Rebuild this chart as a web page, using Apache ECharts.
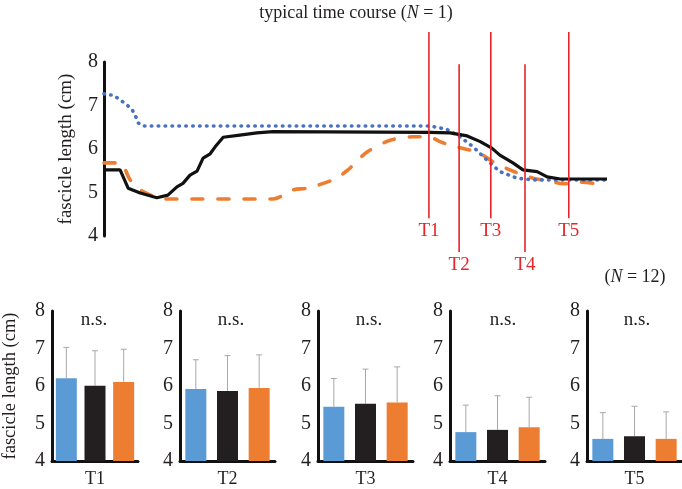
<!DOCTYPE html>
<html>
<head>
<meta charset="utf-8">
<script src="https://cdn.jsdelivr.net/npm/echarts@6/dist/echarts.min.js"></script>
<style>
html, body { margin: 0; padding: 0; background: #fff; }
#main { width: 682px; height: 489px; }
</style>
</head>
<body>
<div id="main"></div>
<script>
// typical time course (N = 1): [time %, fascicle length cm]
var courseDotted = [[0,7.27],[0.6,7.24],[1.8,7.24],[3.2,7.13],[4.6,7.01],[5.6,6.9],[6.2,6.78],[6.8,6.6],[7.6,6.53],[64.8,6.53],[68.2,6.45],[70.8,6.28],[73.4,6.05],[76.1,5.75],[78.7,5.48],[82.1,5.33],[85.3,5.29],[100,5.29]];
var courseSolid = [[0,5.52],[3.2,5.52],[4.8,5.1],[7.2,4.99],[10.5,4.88],[12.7,4.94],[14.5,5.13],[15.7,5.21],[17.1,5.40],[18.5,5.49],[19.7,5.79],[21.1,5.89],[22.1,6.05],[23.7,6.27],[27.0,6.32],[30.4,6.37],[33.6,6.40],[64.8,6.38],[68.8,6.37],[72.2,6.30],[74.8,6.17],[77.1,6.02],[78.7,5.86],[81.3,5.68],[83.3,5.52],[86.1,5.48],[88.1,5.36],[90.7,5.31],[100,5.31]];
var courseDashed = [[0,5.68],[3.2,5.68],[5.2,5.29],[7.8,5.02],[12.5,4.85],[33.6,4.85],[37.6,5.06],[40.4,5.1],[45.5,5.29],[48.3,5.5],[52.3,5.93],[56.9,6.2],[61.4,6.28],[64.6,6.28],[66.8,6.17],[68.8,6.09],[72.2,5.99],[74.2,5.94],[77.3,5.71],[81.3,5.49],[85.3,5.33],[88.7,5.26],[91.3,5.20],[94.6,5.24],[98.6,5.19]];

// time markers
var markerNames = ['T1', 'T2', 'T3', 'T4', 'T5'];
var markerTimes = [64.6, 70.6, 76.9, 83.7, 92.4];
var markerTops = [8.69, 7.95, 8.69, 7.95, 8.69];
var markerBottoms = [4.41, 3.63, 4.41, 3.63, 4.41];

// group means and SD (N = 12)
var conditions = ['condition 1', 'condition 2', 'condition 3'];
var meanBlue = [6.21, 5.92, 5.45, 4.77, 4.59];
var sdBlue = [0.82, 0.78, 0.75, 0.72, 0.70];
var meanBlack = [6.01, 5.87, 5.53, 4.83, 4.66];
var sdBlack = [0.93, 0.94, 0.92, 0.91, 0.80];
var meanOrange = [6.11, 5.95, 5.56, 4.90, 4.59];
var sdOrange = [0.87, 0.88, 0.95, 0.80, 0.72];

var serif = '"Liberation Serif", "DejaVu Serif", serif';
var ink = '#231f20';
var red = '#e8232b';
var barColors = ['#5b9bd5', '#231f20', '#ed7d31'];

var chart = echarts.init(document.getElementById('main'));

var grids = [{ left: 104, top: 62, width: 503, height: 174 }];
var xAxes = [{ gridIndex: 0, type: 'value', min: 0, max: 100, show: false }];
var yAxes = [{
	gridIndex: 0, type: 'value', min: 4, max: 8, interval: 1,
	name: 'fascicle length (cm)', nameLocation: 'middle', nameGap: 28,
	nameTextStyle: { fontFamily: serif, fontSize: 19, color: ink },
	axisLine: { show: true, lineStyle: { color: '#111', width: 3 } },
	axisTick: { show: false },
	splitLine: { show: false },
	axisLabel: { fontFamily: serif, fontSize: 20, color: ink, margin: 6 }
}];

var series = [{
	type: 'line', xAxisIndex: 0, yAxisIndex: 0, data: courseDotted,
	symbol: 'none', lineStyle: { color: '#4a72c0', width: 3.6, type: [0.5, 6.4], cap: 'round' }, z: 3
}, {
	type: 'line', xAxisIndex: 0, yAxisIndex: 0, data: courseDashed,
	symbol: 'none', smooth: 0.3, lineStyle: { color: '#ed7d31', width: 3.6, type: [11, 15], cap: 'round' }, z: 2
}, {
	type: 'line', xAxisIndex: 0, yAxisIndex: 0, data: courseSolid,
	symbol: 'none', lineStyle: { color: '#111', width: 3.2 }, z: 4
}, {
	type: 'custom', xAxisIndex: 0, yAxisIndex: 0, clip: false, z: 5,
	data: markerTimes.map(function (t, i) { return [t, markerTops[i], markerBottoms[i]]; }),
	encode: { x: 0, y: [1, 2] },
	renderItem: function (params, api) {
		var t = api.value(0);
		var p1 = api.coord([t, api.value(1)]);
		var p2 = api.coord([t, api.value(2)]);
		return {
			type: 'group',
			children: [{
				type: 'line',
				shape: { x1: p1[0], y1: p1[1], x2: p2[0], y2: p2[1] },
				style: { stroke: red, lineWidth: 1.6 }
			}, {
				type: 'text', x: p2[0], y: p2[1] + 13,
				style: { text: markerNames[params.dataIndex], fill: red, font: '19px ' + serif, align: 'center', verticalAlign: 'middle' }
			}]
		};
	}
}];

var barLefts = [43, 180, 318, 450, 587];
markerNames.forEach(function (name, k) {
	var gi = k + 1;
	grids.push({ left: barLefts[k], top: 311, width: 95, height: 151 });
	xAxes.push({
		gridIndex: gi, type: 'category', data: conditions,
		name: name, nameLocation: 'middle', nameGap: 9,
		nameTextStyle: { fontFamily: serif, fontSize: 18, color: ink },
		axisLine: { show: true, lineStyle: { color: '#111', width: 3 } },
		axisTick: { show: false },
		axisLabel: { show: false }
	});
	yAxes.push({
		gridIndex: gi, type: 'value', min: 4, max: 8, interval: 1,
		name: k === 0 ? 'fascicle length (cm)' : '', nameLocation: 'middle', nameGap: 32,
		nameTextStyle: { fontFamily: serif, fontSize: 18.5, color: ink },
		axisLine: { show: true, lineStyle: { color: '#111', width: 3 } },
		axisTick: { show: false },
		splitLine: { show: false },
		axisLabel: { fontFamily: serif, fontSize: 20, color: ink, margin: 7 }
	});
	var means = [meanBlue[k], meanBlack[k], meanOrange[k]];
	var sds = [sdBlue[k], sdBlack[k], sdOrange[k]];
	series.push({
		type: 'bar', xAxisIndex: gi, yAxisIndex: gi, barWidth: 21,
		data: means.map(function (m, i) { return { value: m, itemStyle: { color: barColors[i] } }; })
	});
	series.push({
		type: 'custom', xAxisIndex: gi, yAxisIndex: gi, z: 1,
		data: means.map(function (m, i) { return [i, m, m + sds[i]]; }),
		encode: { x: 0, y: [1, 2] },
		renderItem: function (params, api) {
			var base = api.coord([api.value(0), api.value(1)]);
			var top = api.coord([api.value(0), api.value(2)]);
			var st = { stroke: '#a8a8a8', lineWidth: 1 };
			return {
				type: 'group',
				children: [
					{ type: 'line', shape: { x1: base[0], y1: base[1], x2: top[0], y2: top[1] }, style: st },
					{ type: 'line', shape: { x1: top[0] - 3, y1: top[1], x2: top[0] + 3, y2: top[1] }, style: st }
				]
			};
		}
	});
});

var nsCenters = [94, 231, 369, 503, 637];
var graphics = [{
	type: 'text', x: 356, y: 13,
	style: {
		text: 'typical time course ({i|N} = 1)', fill: ink, font: '18px ' + serif,
		align: 'center', verticalAlign: 'middle',
		rich: { i: { fontStyle: 'italic', fontFamily: serif, fontSize: 18, fill: ink } }
	}
}, {
	type: 'text', x: 635, y: 277,
	style: {
		text: '({i|N} = 12)', fill: ink, font: '18px ' + serif,
		align: 'center', verticalAlign: 'middle',
		rich: { i: { fontStyle: 'italic', fontFamily: serif, fontSize: 18, fill: ink } }
	}
}];
nsCenters.forEach(function (cx) {
	graphics.push({
		type: 'text', x: cx, y: 320,
		style: { text: 'n.s.', fill: ink, font: '19px ' + serif, align: 'center', verticalAlign: 'middle' }
	});
});

option = {
	animation: false,
	backgroundColor: '#fff',
	grid: grids,
	xAxis: xAxes,
	yAxis: yAxes,
	series: series,
	graphic: graphics
};
chart.setOption(option);
</script>
</body>
</html>
